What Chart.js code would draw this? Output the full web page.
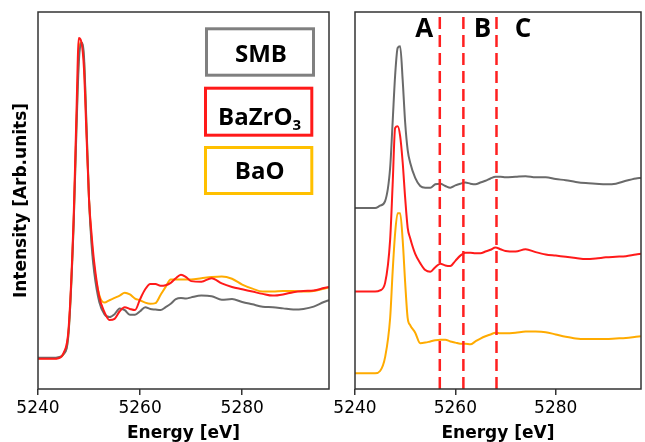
<!DOCTYPE html>
<html>
<head>
<meta charset="utf-8">
<script src="https://cdn.jsdelivr.net/npm/chart.js@4.4.1/dist/chart.umd.min.js"></script>
<style>
  html, body { margin: 0; padding: 0; background: #fff; }
  #wrap { position: relative; width: 645px; height: 442px; overflow: hidden; }
  canvas { position: absolute; top: 0; left: 0; }
</style>
</head>
<body>
<div id="wrap">
  <canvas id="left" width="340" height="442"></canvas>
  <canvas id="right" width="645" height="442"></canvas>
</div>
<script>
// Energie commune (eV)
const energy = [5240, 5243, 5244, 5245, 5246, 5247, 5247.5, 5248, 5248.5, 5249, 5249.5, 5250, 5250.5, 5251,
    5252, 5253, 5254, 5255, 5256, 5257, 5258, 5259, 5260, 5261, 5262, 5263, 5264, 5265, 5266, 5267, 5268, 5269, 5270,
    5272, 5274, 5276, 5278, 5280, 5282, 5284, 5286, 5288, 5290, 5292, 5294, 5296, 5297];

// Panneau gauche : spectres superposes
const smbLeft = [0.54, 0.54, 0.55, 0.60, 0.98, 2.88, 4.38, 5.64, 5.97, 5.74, 4.55, 3.26, 2.48, 2.02,
    1.50, 1.29, 1.24, 1.29, 1.39, 1.36, 1.28, 1.28, 1.34, 1.41, 1.38, 1.37, 1.36, 1.41, 1.47, 1.55, 1.57, 1.56, 1.58,
    1.61, 1.60, 1.54, 1.55, 1.50, 1.46, 1.42, 1.41, 1.39, 1.37, 1.38, 1.42, 1.50, 1.53];
const bazroLeft = [0.52, 0.52, 0.53, 0.62, 1.05, 3.00, 4.64, 6.05, 5.98, 5.53, 4.38, 3.26, 2.66, 2.19,
    1.59, 1.33, 1.19, 1.21, 1.34, 1.41, 1.38, 1.36, 1.55, 1.72, 1.81, 1.81, 1.78, 1.79, 1.83, 1.91, 1.97, 1.93, 1.86,
    1.85, 1.91, 1.82, 1.76, 1.72, 1.68, 1.64, 1.61, 1.63, 1.67, 1.69, 1.70, 1.74, 1.76];
const baoLeft = [0.53, 0.53, 0.54, 0.60, 1.00, 2.91, 4.47, 5.76, 5.98, 5.67, 4.50, 3.26, 2.57, 2.10,
    1.62, 1.49, 1.53, 1.57, 1.61, 1.66, 1.63, 1.56, 1.53, 1.49, 1.47, 1.48, 1.62, 1.76, 1.89, 1.89, 1.89, 1.89, 1.89,
    1.91, 1.93, 1.94, 1.90, 1.80, 1.73, 1.68, 1.68, 1.69, 1.69, 1.68, 1.69, 1.73, 1.75];

// Panneau droit : spectres decales
const smbRight = [3.12, 3.12, 3.12, 3.16, 3.24, 3.81, 4.60, 5.41, 5.88, 5.91, 5.33, 4.59, 4.12, 3.90,
    3.64, 3.50, 3.47, 3.47, 3.53, 3.54, 3.50, 3.47, 3.51, 3.54, 3.56, 3.54, 3.53, 3.56, 3.59, 3.63, 3.66, 3.66, 3.65,
    3.66, 3.67, 3.65, 3.65, 3.62, 3.60, 3.57, 3.55, 3.54, 3.53, 3.54, 3.59, 3.63, 3.64];
const bazroRight = [1.68, 1.68, 1.68, 1.70, 1.83, 2.57, 3.52, 4.50, 4.53, 4.36, 3.91, 3.29, 2.78, 2.60,
    2.33, 2.17, 2.05, 2.02, 2.10, 2.16, 2.13, 2.12, 2.21, 2.30, 2.35, 2.35, 2.34, 2.34, 2.37, 2.40, 2.44, 2.41, 2.38,
    2.37, 2.41, 2.36, 2.32, 2.30, 2.28, 2.26, 2.24, 2.25, 2.27, 2.28, 2.29, 2.32, 2.33];
const baoRight = [0.27, 0.27, 0.27, 0.31, 0.55, 1.22, 2.02, 2.69, 3.03, 3.03, 2.57, 1.83, 1.22, 1.10,
    0.97, 0.79, 0.80, 0.82, 0.84, 0.85, 0.85, 0.82, 0.80, 0.78, 0.78, 0.77, 0.82, 0.87, 0.91, 0.94, 0.97, 0.96, 0.96,
    0.97, 0.99, 0.99, 0.98, 0.94, 0.90, 0.87, 0.86, 0.86, 0.86, 0.87, 0.88, 0.90, 0.91];

// Lignes pointillees et zones A, B, C
const markerEnergy = [5256.9, 5261.6, 5268.2];
const regionLabels = ['A', 'B', 'C'];
const regionEnergy = [5253.8, 5265.4, 5273.5];

const xTicks = [5240, 5260, 5280];
const xMin = 5240, xMax = 5297;
const yMin = 0, yMax = 6.5;

const colors = {
    smb: '#6a6a6a',
    bazro: '#ff1a1a',
    bao: '#ffab00',
    frame: '#333333',
    marker: '#ff2020'
};

const pts = arr => arr.map((v, i) => ({ x: energy[i], y: v }));

function lineSet(label, arr, color, order) {
    return {
        label: label,
        data: pts(arr),
        borderColor: color,
        borderWidth: 2,
        pointRadius: 0,
        cubicInterpolationMode: 'monotone',
        order: order
    };
}

// Cadre autour de la zone de trace
const framePlugin = {
    id: 'frame',
    afterDatasetsDraw(chart) {
        const { ctx, chartArea: a } = chart;
        ctx.save();
        ctx.strokeStyle = colors.frame;
        ctx.lineWidth = 1.5;
        ctx.strokeRect(a.left, a.top, a.right - a.left, a.bottom - a.top);
        ctx.restore();
    }
};

// Boites de legende du panneau gauche
const legendPlugin = {
    id: 'boxes',
    afterDraw(chart) {
        const ctx = chart.ctx;
        const boxes = [
            { c: '#808080', r: [206.5, 28.8, 107, 46.4], parts: [['SMB', 0]], base: 62 },
            { c: '#ff1a1a', r: [205.5, 88.2, 106.3, 47], parts: [['BaZrO', 0], ['3', 1]], base: 125 },
            { c: '#ffc000', r: [205.5, 147.5, 106.3, 46], parts: [['BaO', 0]], base: 178.5 }
        ];
        ctx.save();
        ctx.lineWidth = 3;
        boxes.forEach(b => {
            ctx.strokeStyle = b.c;
            ctx.strokeRect(b.r[0], b.r[1], b.r[2], b.r[3]);
            let w = 0;
            b.parts.forEach(p => {
                ctx.font = p[1] ? 'bold 15px "Open Sans"' : 'bold 24px "Open Sans"';
                w += ctx.measureText(p[0]).width;
            });
            let x = b.r[0] + b.r[2] / 2 - w / 2 + 1;
            ctx.fillStyle = '#000';
            ctx.textBaseline = 'alphabetic';
            ctx.textAlign = 'left';
            b.parts.forEach(p => {
                ctx.font = p[1] ? 'bold 15px "Open Sans"' : 'bold 24px "Open Sans"';
                ctx.fillText(p[0], x, b.base + (p[1] ? 5 : 0));
                x += ctx.measureText(p[0]).width;
            });
        });
        ctx.restore();
    }
};

// Etiquettes A, B, C
const regionPlugin = {
    id: 'regions',
    afterDraw(chart) {
        const { ctx, scales } = chart;
        ctx.save();
        ctx.font = 'bold 26px "Open Sans"';
        ctx.fillStyle = '#000';
        ctx.textAlign = 'center';
        ctx.textBaseline = 'alphabetic';
        regionLabels.forEach((t, i) => {
            ctx.fillText(t, scales.x.getPixelForValue(regionEnergy[i]), 37.3);
        });
        ctx.restore();
    }
};

function xAxis() {
    return {
        type: 'linear',
        min: xMin,
        max: xMax,
        afterBuildTicks: s => { s.ticks = xTicks.map(v => ({ value: v })); },
        afterFit: s => { s.height = 53; },
        grid: { display: true, drawOnChartArea: false, drawTicks: true, tickLength: 6, color: colors.frame, lineWidth: 1.5 },
        border: { display: false },
        ticks: {
            color: '#000',
            font: { family: 'DejaVu Sans', size: 17 },
            padding: 3,
            maxRotation: 0,
            callback: v => String(v)
        },
        title: {
            display: true,
            text: 'Energy [eV]',
            color: '#000',
            font: { family: 'DejaVu Sans', size: 17, weight: 'bold', lineHeight: 1 },
            padding: { top: 0, bottom: 0 }
        }
    };
}

document.addEventListener('DOMContentLoaded', () => {
    initLeftPanel();
    initRightPanel();
});

function initLeftPanel() {
    new Chart(document.getElementById('left'), {
        type: 'line',
        data: {
            datasets: [
                lineSet('BaO', baoLeft, colors.bao, 3),
                lineSet('SMB', smbLeft, colors.smb, 2),
                lineSet('BaZrO3', bazroLeft, colors.bazro, 1)
            ]
        },
        options: {
            responsive: false,
            animation: false,
            layout: { padding: { top: 12, right: 11, left: 0, bottom: 0 } },
            plugins: { legend: { display: false }, tooltip: { enabled: false } },
            scales: {
                x: xAxis(),
                y: {
                    min: yMin,
                    max: yMax,
                    afterFit: s => { s.width = 38; },
                    grid: { display: false },
                    border: { display: false },
                    ticks: { display: false },
                    title: {
                        display: true,
                        text: 'Intensity [Arb.units]',
                        color: '#000',
                        font: { family: 'DejaVu Sans', size: 17, weight: 'bold', lineHeight: 1 },
                        padding: { top: 13.5, bottom: 0 }
                    }
                }
            }
        },
        plugins: [framePlugin, legendPlugin]
    });
}

function initRightPanel() {
    const markers = markerEnergy.map(e => ({
        data: [{ x: e, y: yMin }, { x: e, y: yMax }],
        borderColor: colors.marker,
        borderWidth: 2.5,
        borderDash: [12, 6],
        pointRadius: 0,
        order: 0
    }));
    new Chart(document.getElementById('right'), {
        type: 'line',
        data: {
            datasets: [
                lineSet('SMB', smbRight, colors.smb, 2),
                lineSet('BaZrO3', bazroRight, colors.bazro, 2),
                lineSet('BaO', baoRight, colors.bao, 2)
            ].concat(markers)
        },
        options: {
            responsive: false,
            animation: false,
            layout: { padding: { top: 12, right: 4, left: 355, bottom: 0 } },
            plugins: { legend: { display: false }, tooltip: { enabled: false } },
            scales: {
                x: xAxis(),
                y: { display: false, min: yMin, max: yMax }
            }
        },
        plugins: [framePlugin, regionPlugin]
    });
}
</script>
</body>
</html>
